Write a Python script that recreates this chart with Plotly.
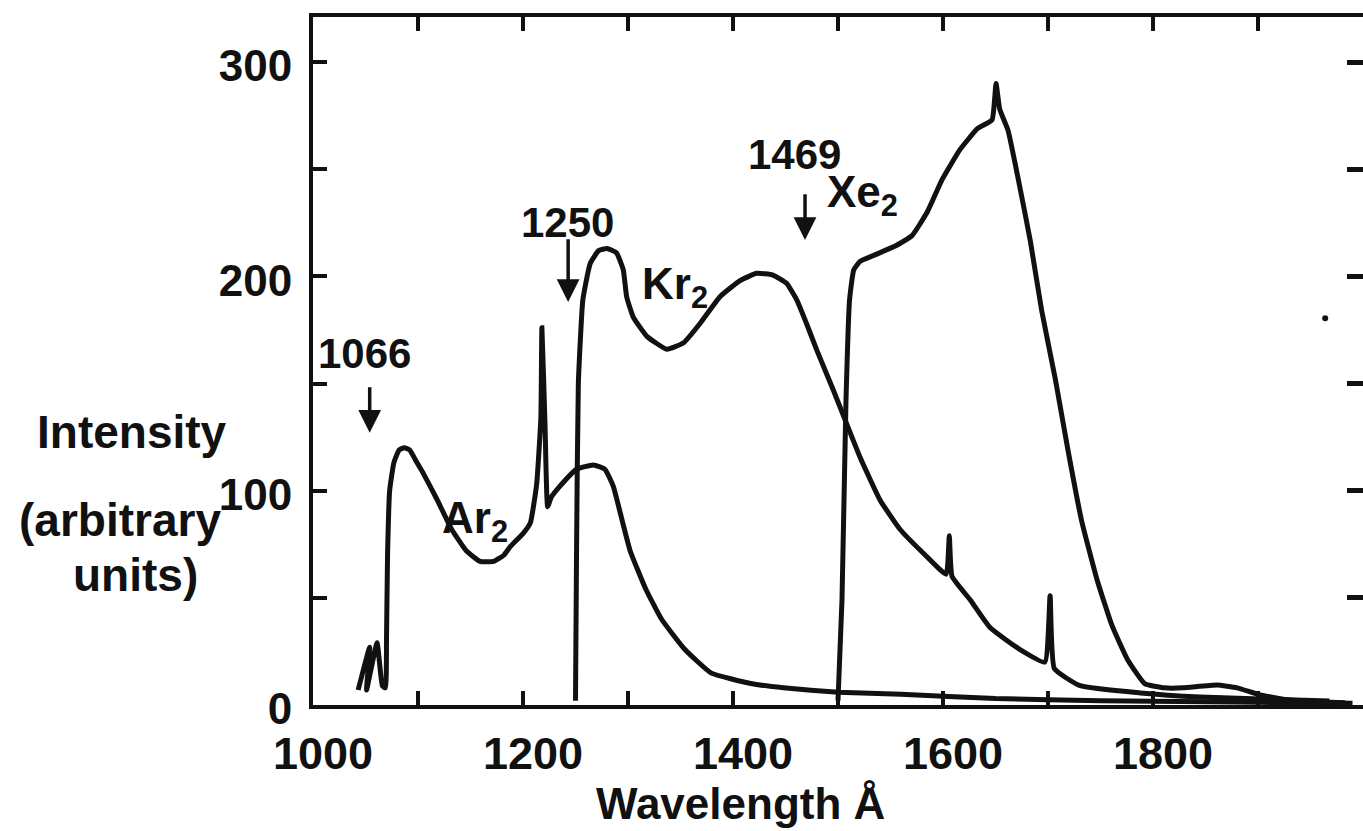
import plotly.graph_objects as go

# Emission continua of the rare-gas excimers (wavelength in Å, intensity in arbitrary units)
ar2_wavelength = [1043, 1054, 1051, 1061, 1066, 1069, 1070, 1071, 1073, 1077, 1082, 1087, 1092,
                  1098, 1104, 1118, 1132, 1146, 1159, 1172, 1182, 1188, 1200, 1207, 1213,
                  1217, 1218, 1221, 1223.5, 1227, 1235, 1251, 1267, 1278, 1286, 1295, 1302,
                  1317, 1332, 1354, 1379, 1417, 1448, 1500, 1560, 1650, 1750, 1850, 1950, 1990]
ar2_intensity = [7, 27, 7, 29, 9, 8, 30, 70, 100, 113, 119, 120, 119,
                 114, 109, 96, 82, 72, 67, 67, 70, 74, 80, 85, 103,
                 134, 176, 130, 92.5, 97, 102, 110, 112, 110, 102, 85, 72,
                 54, 40, 26, 15, 10, 8, 6, 5, 3, 2, 1.5, 1, 0.8]

kr2_wavelength = [1250, 1251, 1252.7, 1257, 1264, 1272, 1280, 1289, 1295.5, 1298.7, 1305, 1318,
                  1337, 1353, 1368.6, 1387.6, 1406.7, 1422.6, 1438, 1451, 1460.7, 1470, 1479.7,
                  1495.5, 1508, 1521, 1540, 1559, 1583, 1603, 1606, 1608.6, 1626, 1645, 1673,
                  1697, 1702, 1706, 1730.5, 1788, 1845, 1902, 1968]
kr2_intensity = [2, 72, 150, 189, 206, 212, 213, 211, 203, 190.5, 181, 172,
                 166, 169, 178, 190.5, 198, 201.4, 200.6, 196.8, 189, 178, 165.7,
                 147, 131.5, 115.6, 95.7, 82, 70, 61, 79, 60, 49, 36, 26,
                 20, 51, 17, 9, 5.6, 3.7, 2.8, 1.9]

xe2_wavelength = [1500, 1503.8, 1507.6, 1511, 1515, 1521, 1535, 1554, 1570.5, 1585, 1599, 1616,
                  1633, 1646.7, 1650.5, 1654, 1662, 1671, 1683, 1694, 1707, 1719, 1732, 1747,
                  1761, 1776, 1792, 1811, 1828.6, 1861, 1880, 1902, 1930.5, 1962, 1983]
xe2_intensity = [2, 49, 142, 189, 203, 207, 210, 214, 219, 230, 245, 259,
                 269, 273, 290, 278, 268, 247, 217, 184, 152, 119, 86, 58,
                 37, 21, 10, 8, 8, 9.3, 8, 4.7, 2.3, 1.4, 1]

# Marked wavelengths (Å) with the intensities where each arrow starts and ends
marked_wavelengths = [1066, 1250, 1469]
arrow_tail = [149, 218, 239]
arrow_tip = [127, 188, 217]

x_major = [1000, 1200, 1400, 1600, 1800]
x_minor = [1100, 1300, 1500, 1700, 1900]
x_all = [1100, 1200, 1300, 1400, 1500, 1600, 1700, 1800, 1900]
y_major = [0, 100, 200, 300]
y_minor = [50, 150, 250]
y_all = [50, 100, 150, 200, 250, 300]

FONT = "Liberation Sans, Arial, sans-serif"
INK = "#111111"
LW = 5

fig = go.Figure()
for wl, inten in [(ar2_wavelength, ar2_intensity), (kr2_wavelength, kr2_intensity),
                  (xe2_wavelength, xe2_intensity)]:
    fig.add_trace(go.Scatter(x=wl, y=inten, mode="lines",
                             line=dict(color=INK, width=LW, shape="spline", smoothing=0.4),
                             hoverinfo="skip", showlegend=False))

# carrier trace for the mirrored top/right axes
fig.add_trace(go.Scatter(x=[1964], y=[180.5], mode="markers", xaxis="x2", yaxis="y2",
                         marker=dict(color=INK, size=6), hoverinfo="skip", showlegend=False))

tick_font_x = dict(family=FONT, size=45, color=INK, weight="bold")
tick_font_y = dict(family=FONT, size=44, color=INK, weight="bold")

fig.update_layout(
    width=1363, height=831,
    margin=dict(l=313, r=0, t=17, b=126, autoexpand=False),
    paper_bgcolor="white", plot_bgcolor="white",
    xaxis=dict(range=[1000, 2000], showline=True, linewidth=4, linecolor=INK,
               showgrid=False, zeroline=False, ticks="inside", ticklen=14, tickwidth=4,
               tickcolor=INK, tickvals=x_major, ticktext=[str(v) for v in x_major],
               tickfont=tick_font_x, ticklabelstandoff=6, ticklabelshift=10,
               minor=dict(tickvals=x_minor, ticks="inside", ticklen=14, tickwidth=4,
                          tickcolor=INK, showgrid=False)),
    yaxis=dict(range=[0, 321], showline=True, linewidth=4, linecolor=INK,
               showgrid=False, zeroline=False, ticks="inside", ticklen=14, tickwidth=4,
               tickcolor=INK, tickvals=y_major, ticktext=[str(v) for v in y_major],
               tickfont=tick_font_y, ticklabelstandoff=8, ticklabelshift=4,
               minor=dict(tickvals=y_minor, ticks="inside", ticklen=14, tickwidth=4,
                          tickcolor=INK, showgrid=False)),
    xaxis2=dict(range=[1000, 2000], overlaying="x", side="top", anchor="y2",
                showline=True, linewidth=4, linecolor=INK, showgrid=False, zeroline=False,
                ticks="inside", ticklen=14, tickwidth=4, tickcolor=INK,
                tickvals=x_all, showticklabels=False),
    yaxis2=dict(range=[0, 321], overlaying="y", side="right", anchor="x2",
                showline=False, showgrid=False, zeroline=False,
                ticks="inside", ticklen=16, tickwidth=5, tickcolor=INK,
                tickvals=y_all, showticklabels=False),
)

ann = []
# wavelength markers with downward arrows
label_pos = [(1048.6, 164), (1242, 225), (1459, 257)]
for wl, (lx, ly) in zip(marked_wavelengths, label_pos):
    ann.append(dict(x=lx, y=ly, xref="x", yref="y", text=str(wl), showarrow=False,
                    font=dict(family=FONT, size=42, color=INK, weight="bold")))
arrow_x = [1054, 1243, 1468.6]
for ax_, tail, tip in zip(arrow_x, arrow_tail, arrow_tip):
    ann.append(dict(x=ax_, y=tip, ax=ax_, ay=tail, xref="x", yref="y", axref="x", ayref="y",
                    text="", showarrow=True, arrowhead=2, arrowsize=1.3, arrowwidth=3.5,
                    arrowcolor=INK, standoff=0))

# species labels
species = [("Ar<sub>2</sub>", 1121, 86), ("Kr<sub>2</sub>", 1311, 195), ("Xe<sub>2</sub>", 1488, 238)]
for txt, sx, sy in species:
    ann.append(dict(x=sx, y=sy, xref="x", yref="y", text=txt, showarrow=False,
                    xanchor="left", yanchor="middle",
                    font=dict(family=FONT, size=44, color=INK, weight="bold")))

# y-axis caption, written horizontally in three lines
for txt, px, py in [("Intensity", -0.1724, 0.397), ("(arbitrary", -0.184, 0.269),
                    ("units)", -0.1695, 0.189)]:
    ann.append(dict(x=px, y=py, xref="paper", yref="paper", text=txt, showarrow=False,
                    xanchor="center", yanchor="middle",
                    font=dict(family=FONT, size=46, color=INK, weight="bold")))

# x-axis caption
ann.append(dict(x=1407, y=-0.143, xref="x", yref="paper", text="Wavelength Å", showarrow=False,
                xanchor="center", yanchor="middle",
                font=dict(family=FONT, size=44, color=INK, weight="bold")))

fig.update_layout(annotations=ann)
fig.write_html("out.html")
